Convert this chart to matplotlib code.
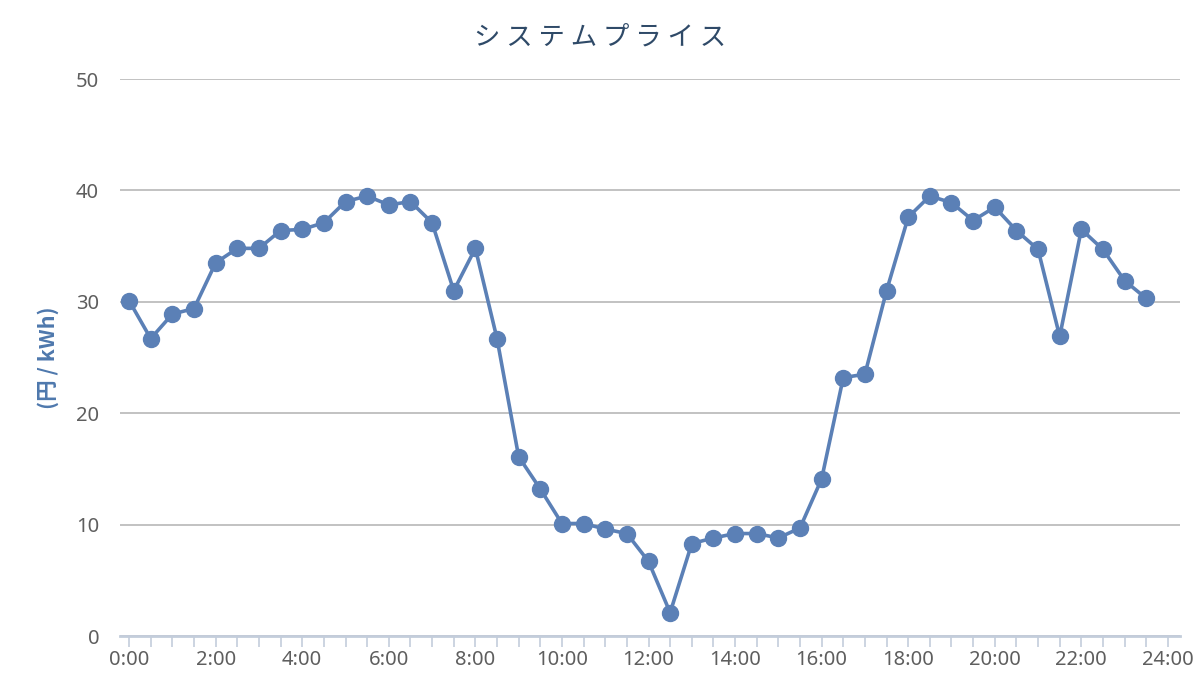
import matplotlib
matplotlib.use("Agg")
import matplotlib.pyplot as plt
from matplotlib.ticker import MultipleLocator, FuncFormatter

# ---------- DATA ----------
hours = [i * 0.5 for i in range(48)]   # 0:00 .. 23:30, every 30 min
prices = [
    30.1, 26.7, 28.9, 29.4, 33.5, 34.8, 34.8, 36.4, 36.5, 37.1,
    39.0, 39.5, 38.7, 39.0, 37.1, 31.0, 34.8, 26.7, 16.1, 13.2,
    10.1, 10.1, 9.6, 9.2, 6.7, 2.1, 8.3, 8.8, 9.2, 9.2,
    8.8, 9.7, 14.1, 23.2, 23.5, 31.0, 37.6, 39.5, 38.9, 37.3,
    38.5, 36.4, 34.7, 26.9, 36.5, 34.7, 31.9, 30.3,
]
y_ticks = [0, 10, 20, 30, 40, 50]
title = "システムプライス"
y_label = "(円 / kWh)"

# ---------- STYLE ----------
LINE_COL = "#5b80b6"
GRID_COL = "#bdbdbd"
AXIS_COL = "#c3cddb"
TEXT_COL = "#5e5e5e"

plt.rcParams["font.family"] = ["Noto Sans", "DejaVu Sans"]

fig = plt.figure(figsize=(12, 7), dpi=100)
ax = fig.add_axes([0.1, 0.0914, 0.883, 0.7957])

ax.plot(hours, prices, color=LINE_COL, linewidth=2.6, marker="o",
        markersize=11.5, markerfacecolor=LINE_COL, markeredgecolor=LINE_COL,
        zorder=5, clip_on=False)

ax.set_xlim(-0.21, 24.27)
ax.set_ylim(0, 50)

ax.set_yticks(y_ticks)
ax.yaxis.grid(True, color=GRID_COL, linewidth=1.3)
ax.set_axisbelow(True)
ax.tick_params(axis="y", length=0, pad=15, labelsize=14.5, labelcolor=TEXT_COL)

ax.xaxis.set_major_locator(MultipleLocator(2))
ax.xaxis.set_minor_locator(MultipleLocator(0.5))
ax.xaxis.set_major_formatter(FuncFormatter(lambda v, p: f"{int(round(v))}:00"))
ax.tick_params(axis="x", which="both", length=8, width=1.2, color=AXIS_COL,
               labelsize=14.5, labelcolor=TEXT_COL, pad=2)

for side in ("left", "right", "top"):
    ax.spines[side].set_visible(False)
ax.spines["bottom"].set_color(AXIS_COL)
ax.spines["bottom"].set_linewidth(2)

ax.set_ylabel(y_label, family=["Noto Sans CJK JP", "DejaVu Sans"],
              fontsize=15.5, fontweight="bold", color="#4e78ad", labelpad=12)

fig.text(0.5, 0.947, " ".join(title),
         ha="center", va="center", fontsize=19, color="#2f4a68",
         family=["Noto Sans CJK JP", "DejaVu Sans"])

fig.savefig("out.png", dpi=100, facecolor="white")
